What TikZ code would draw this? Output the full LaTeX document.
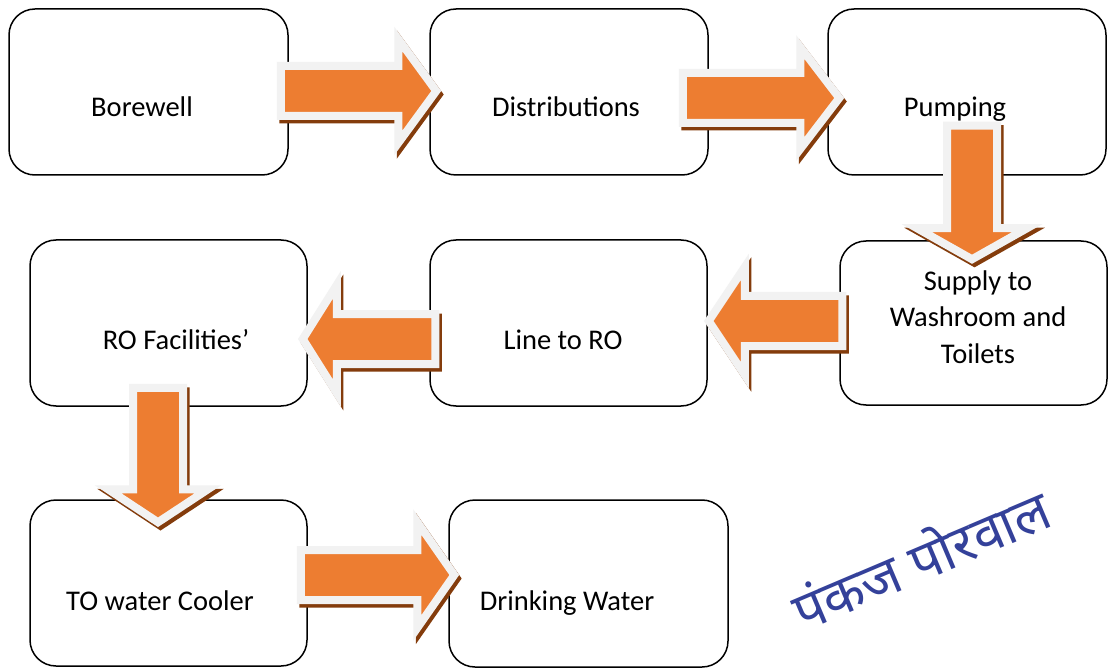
\documentclass[tikz,border=0pt]{standalone}
\usepackage{fontspec}
\setmainfont{Carlito}
\newfontfamily\devfont[Script=Devanagari]{Noto Sans}
\usetikzlibrary{calc}
\definecolor{arrorange}{HTML}{ED7D31}
\definecolor{arredge}{HTML}{F2F2F2}
\definecolor{arrshade}{HTML}{843C0C}
\definecolor{sigblue}{HTML}{34419A}
\tikzset{
  box/.style={draw=black, line width=1.5pt, rounded corners=26pt, fill=white,
    minimum width=#1, minimum height=166pt, inner sep=0pt},
  box/.default={278pt},
  lbl/.style={font=\fontsize{28.5}{36.5}\selectfont, inner sep=0pt, align=center},
  arrshadow/.style={fill=arrshade, draw=arrshade, line width=8pt, line join=miter,
    transform canvas={shift={(2.5pt,-3.5pt)}}},
  arrbody/.style={fill=arrorange, draw=arredge, line width=8pt, line join=miter},
}
\newcommand\blockarrow[4]{%
  \coordinate (ba) at #1;
  \coordinate (bb) at #2;
  \coordinate (bh) at ($(bb)!#3pt!(ba)$);
  \coordinate (q1) at ($(ba)!25pt!90:(bb)$);
  \coordinate (q2) at ($(bh)!25pt!90:(bb)$);
  \coordinate (q3) at ($(bh)!#4pt!90:(bb)$);
  \coordinate (q4) at ($(bh)!#4pt!-90:(bb)$);
  \coordinate (q5) at ($(bh)!25pt!-90:(bb)$);
  \coordinate (q6) at ($(ba)!25pt!-90:(bb)$);
  \path[arrshadow] (q1)--(q2)--(q3)--(bb)--(q4)--(q5)--(q6)--cycle;
  \path[arrbody] (q1)--(q2)--(q3)--(bb)--(q4)--(q5)--(q6)--cycle;
}
\begin{document}
\begin{tikzpicture}[x=1pt,y=-1pt]
\useasboundingbox[fill=white] (0,0) rectangle (1108,668);
% boxes
\node[box=279pt] (b1) at (148.5,92) {};
\node[box] (b2) at (569,92) {};
\node[box] (b3) at (967,92) {};
\node[box=267pt, minimum height=164pt] (b4) at (973.5,323) {};
\node[box=277pt] (b5) at (568.5,323) {};
\node[box=277pt] (b6) at (168.5,323) {};
\node[box=277pt] (b7) at (168.5,583) {};
\node[box=279pt, minimum height=167pt] (b8) at (588.5,583.5) {};
% labels
\node[lbl, anchor=base] (t1) at (142,117) {Borewell};
\node[lbl, anchor=base] (t2) at (566,117) {Distributions};
\node[lbl, anchor=base] (t3) at (955,117) {Pumping};
\node[lbl] (t4) at (978,317) {Supply to\\Washroom and\\Toilets};
\node[lbl, anchor=base] (t5) at (563,349) {Line to RO};
\node[lbl, anchor=base] (t6) at (176,349) {RO Facilities’};
\node[lbl, anchor=base] (t7) at (160,610) {TO water Cooler};
\node[lbl, anchor=base] (t8) at (567,610) {Drinking Water};
% arrows
\blockarrow{($(b1.east)+(-8,-1)$)}{($(b2.west)+(7,-1)$)}{38}{52}
\blockarrow{($(b2.east)+(-26,6)$)}{($(b3.west)+(12,6)$)}{39}{51}
\blockarrow{($(b3.south)+(5,-50)$)}{($(b4.north)+(-1.5,19)$)}{31}{55}
\blockarrow{($(b4.west)+(3,-2)$)}{($(b5.east)+(1,-2)$)}{36}{54}
\blockarrow{($(b5.west)+(6,16)$)}{($(b6.east)+(-5,16)$)}{34}{54}
\blockarrow{($(b6.south)+(-10.5,-19)$)}{($(b7.north)+(-10.5,23)$)}{33}{50}
\blockarrow{($(b7.east)+(-7,-8)$)}{($(b8.west)+(6,-8.5)$)}{37}{53}
% signature
\node[rotate=23, text=sigblue, font=\devfont\fontsize{54}{54}\selectfont, inner sep=0pt] (sig) at (920,557) {पंकज\hspace{14pt}पोरवाल};
\end{tikzpicture}
\end{document}
